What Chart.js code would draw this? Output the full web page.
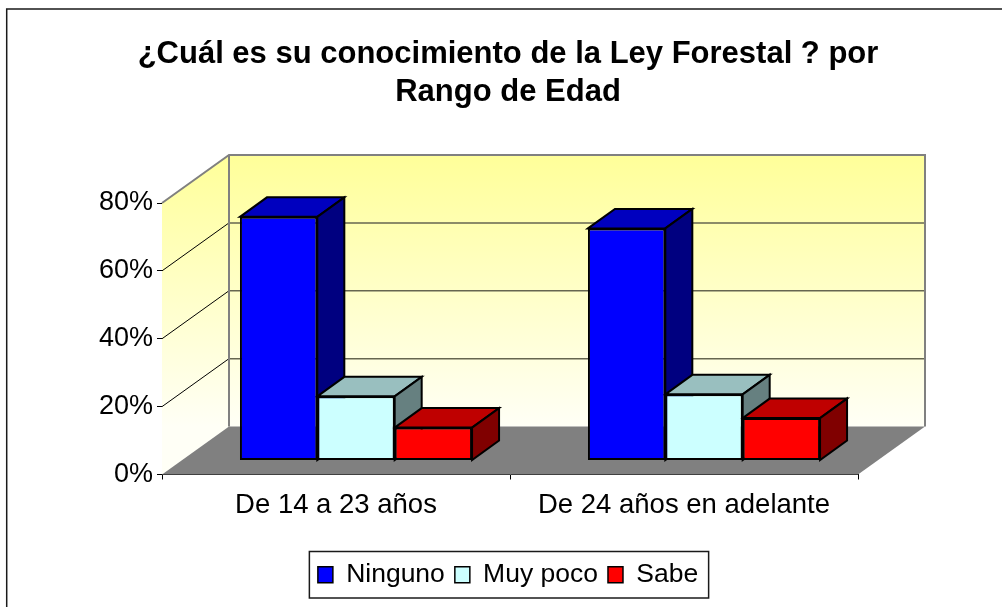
<!DOCTYPE html>
<html>
<head>
<meta charset="utf-8">
<style>
body{margin:0;background:#fff}
canvas{display:block}
</style>
<script src="https://cdn.jsdelivr.net/npm/chart.js@4"></script>
</head>
<body>
<canvas id="myChart" width="1002" height="607"></canvas>
<script>
const categories = ['De 14 a 23 años','De 24 años en adelante'];
const ninguno = [71.8,68.4];
const muyPoco = [18.9,19.5];
const sabe = [9.7,12.5];
const titleLines = ['¿Cuál es su conocimiento de la Ley Forestal ? por','Rango de Edad'];

// depth of the box: back wall and bars
const wallX = 67, wallY = -48;
const barShiftX = 20, barShiftY = -14;
const barDepthX = 27, barDepthY = -19.5;

function poly(ctx,pts,fill,stroke,lw){
  ctx.beginPath();
  pts.forEach((p,i)=> i ? ctx.lineTo(p[0],p[1]) : ctx.moveTo(p[0],p[1]));
  ctx.closePath();
  if(fill){ctx.fillStyle=fill;ctx.fill();}
  if(stroke){ctx.strokeStyle=stroke;ctx.lineWidth=lw;ctx.lineJoin='miter';ctx.stroke();}
}

const box3d = {
  id:'box3d',
  beforeDatasetsDraw(chart){
    const ctx = chart.ctx, a = chart.chartArea, y = chart.scales.y;
    const l=a.left, r=a.right, t=y.getPixelForValue(80), b=y.getPixelForValue(0);
    const wall = ctx.createLinearGradient(0,t+wallY,0,b+wallY);
    wall.addColorStop(0,'#ffff99');
    wall.addColorStop(1,'#fffff6');
    ctx.save();
    poly(ctx,[[l+wallX,t+wallY],[r+wallX,t+wallY],[r+wallX,b+wallY],[l+wallX,b+wallY]],wall);
    poly(ctx,[[l,t],[l+wallX,t+wallY],[l+wallX,b+wallY],[l,b]],wall);
    poly(ctx,[[l,b],[l+wallX,b+wallY],[r+wallX,b+wallY],[r,b]],'#808080');
    // grid lines
    y.ticks.forEach(tk=>{
      const p=y.getPixelForValue(tk.value);
      if(tk.value>0 && tk.value<80){
        ctx.strokeStyle='#000';ctx.lineWidth=1;
        ctx.beginPath();ctx.moveTo(l,p);ctx.lineTo(l+wallX,p+wallY);ctx.stroke();
        ctx.strokeStyle='#666650';ctx.lineWidth=1.5;
        ctx.beginPath();ctx.moveTo(l+wallX,p+wallY);ctx.lineTo(r+wallX,p+wallY);ctx.stroke();
      }
    });
    // wall edges
    ctx.strokeStyle='#808080';ctx.lineWidth=2;
    ctx.beginPath();
    ctx.moveTo(l,t);ctx.lineTo(l+wallX,t+wallY);ctx.lineTo(r+wallX,t+wallY);ctx.lineTo(r+wallX,b+wallY);
    ctx.moveTo(l+wallX,t+wallY);ctx.lineTo(l+wallX,b+wallY);
    ctx.stroke();
    ctx.restore();
    // bars sit a little inside the box
    ctx.save();
    ctx.translate(barShiftX,barShiftY);
    const n = chart.data.labels.length;
    for(let i=0;i<n;i++){
      chart.data.datasets.forEach((ds,d)=>{
        const bar = chart.getDatasetMeta(d).data[i];
        const x0=bar.x-bar.width/2, x1=bar.x+bar.width/2, top=bar.y, base=bar.base;
        poly(ctx,[[x0,top],[x0+barDepthX,top+barDepthY],[x1+barDepthX,top+barDepthY],[x1,top]],ds.topColor,'#000',2);
        poly(ctx,[[x1,top],[x1+barDepthX,top+barDepthY],[x1+barDepthX,base+barDepthY],[x1,base]],ds.sideColor,'#000',2);
      });
    }
  },
  afterDatasetsDraw(chart){
    chart.ctx.restore();
  },
  afterDraw(chart){
    const ctx=chart.ctx, lg=chart.legend, hb=lg.legendHitBoxes;
    ctx.save();
    // outer frame only shows on top and left
    ctx.strokeStyle='#1a1a1a';ctx.lineWidth=1.5;
    ctx.beginPath();ctx.moveTo(6.7,607);ctx.lineTo(6.7,9);ctx.lineTo(1002,9);ctx.stroke();
    const last=hb[hb.length-1];
    ctx.strokeRect(hb[0].left-8.5,551.5,last.left+last.width-hb[0].left+19,46.5);
    ctx.restore();
  }
};

new Chart(document.getElementById('myChart'),{
  type:'bar',
  data:{
    labels:categories,
    datasets:[
      {label:'Ninguno',data:ninguno,backgroundColor:'#0000ff',topColor:'#0000bf',sideColor:'#000080'},
      {label:'Muy poco',data:muyPoco,backgroundColor:'#ccffff',topColor:'#99bfbf',sideColor:'#668080'},
      {label:'Sabe',data:sabe,backgroundColor:'#ff0000',topColor:'#bf0000',sideColor:'#800000'}
    ]
  },
  plugins:[box3d],
  options:{
    responsive:false,
    animation:false,
    layout:{padding:{left:14,right:0,top:35,bottom:9}},
    datasets:{bar:{categoryPercentage:0.667,barPercentage:1,borderColor:'#000',borderWidth:2,borderSkipped:false}},
    plugins:{
      tooltip:{enabled:false},
      title:{
        display:true,
        text:titleLines,
        color:'#000',
        font:{family:'"Liberation Sans"',size:31,weight:'bold',lineHeight:1.226},
        padding:{top:0,bottom:92}
      },
      legend:{
        position:'bottom',
        onClick:null,
        labels:{
          color:'#000',
          font:{family:'"Liberation Sans"',size:26.5},
          boxWidth:15,boxHeight:16,padding:10,
          generateLabels(chart){
            return chart.data.datasets.map((ds,i)=>({
              text:ds.label,fillStyle:ds.backgroundColor,strokeStyle:'#000',lineWidth:1.5,datasetIndex:i
            }));
          }
        }
      }
    },
    scales:{
      x:{
        grid:{drawOnChartArea:false,color:'#000',tickLength:5},
        border:{color:'#000',width:1},
        ticks:{color:'#000',padding:9,maxRotation:0,font:{family:'"Liberation Sans"',size:27.5}},
        afterFit(s){s.height=77;}
      },
      y:{
        min:0,max:80,
        grid:{drawOnChartArea:false,color:'#000',tickLength:5},
        border:{color:'#000',width:1},
        ticks:{stepSize:20,color:'#000',padding:4,font:{family:'"Liberation Sans"',size:27},callback:v=>v+'%'},
        afterFit(s){s.width=148;}
      },
      // empty right axis only keeps the plot away from the right edge
      y2:{
        position:'right',
        grid:{display:false},border:{display:false},
        ticks:{display:false},
        afterFit(s){s.width=144;}
      }
    }
  }
});
</script>
</body>
</html>
